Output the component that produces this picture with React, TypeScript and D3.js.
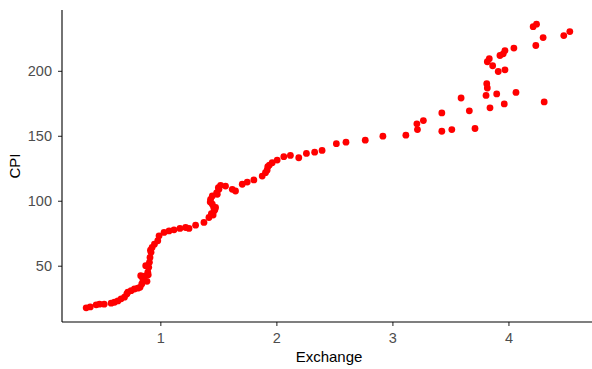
import { useRef, useEffect } from 'react'
import * as d3 from 'd3'

// Exchange rate vs CPI
const exchange = [
  0.361, 0.396, 0.447, 0.476, 0.516, 0.576, 0.605, 0.634, 0.662, 0.691,
  0.711, 0.72, 0.748, 0.777, 0.806, 0.825, 0.84, 0.849, 0.863, 0.892,
  0.9, 0.906, 0.911, 0.92, 0.929, 0.949, 0.978, 0.831, 0.874, 0.885,
  0.896, 0.915, 0.989, 1.032, 1.075, 1.118, 1.169, 1.218, 1.247, 1.304,
  1.376, 1.419, 1.462, 1.476, 1.448, 1.433, 1.448, 1.491, 1.505, 1.519,
  1.44, 1.455, 1.47, 1.43, 1.46, 1.562, 1.62, 1.648, 1.706, 1.749,
  1.806, 1.878, 1.906, 1.926, 1.964, 2.007, 2.064, 2.121, 2.193, 2.259,
  2.33, 2.394, 2.517, 2.6, 2.766, 2.918, 3.116, 3.211, 3.267, 3.216,
  3.426, 3.426, 3.512, 3.592, 3.663, 3.712, 3.807, 3.813, 3.818, 3.841,
  3.899, 3.964, 4.065, 4.308, 4.213, 4.242, 4.299, 4.236, 4.477, 4.529,
  4.047, 3.97, 3.955, 3.927, 3.835, 3.818, 3.864, 3.912, 3.97, 1.92,
  1.94, 1.5, 1.485
]
const cpi = [
  17.6, 18.3, 19.9, 20.4, 20.4, 21.2, 21.9, 22.9, 24.5, 25.8,
  28.3, 29.6, 30.8, 32.1, 32.7, 33.4, 36, 39.8, 41.9, 45,
  48.8, 52.6, 56.4, 60.3, 64.1, 66.6, 69.2, 42.3, 50, 38,
  43, 62, 73, 75.6, 76.8, 77.6, 78.7, 79.4, 78.7, 81.2,
  83.3, 87.1, 92.2, 94.8, 97.3, 101.1, 103.7, 105, 108.8, 111.9,
  90, 89, 93, 99, 95, 111.3, 108.8, 107.5, 112.7, 114.4,
  116, 119, 121.6, 126.2, 129.3, 131.3, 133.9, 134.9, 133.1, 136.4,
  137.4, 138.7, 143.9, 145.1, 146.6, 149.7, 150.5, 159.2, 161.7, 154.8,
  167.6, 153.5, 154.8, 179.1, 169.2, 155.6, 181.1, 190.1, 186.8, 171.5,
  182.2, 174.5, 183.4, 176.1, 234, 235.9, 225.6, 219.5, 227.1, 230.2,
  217.5, 215.6, 213.1, 211.8, 209.3, 207, 203.9, 199.5, 200.8, 123.5,
  127.5, 110, 106
]
const xTicks = [1, 2, 3, 4]
const yTicks = [50, 100, 150, 200]

function Chart() {
  const chartRef = useRef(null)

  function renderChart(container) {
    if (container === null) {
      return
    }
    const width = 592
    const height = 369
    const left = 62
    const right = 594
    const top = 10
    const bottom = 322

    container.innerHTML = ''
    const svg = d3.select(container).append('svg')
      .attr('width', width)
      .attr('height', height)
      .style('display', 'block')
      .style('font-family', 'Liberation Sans, Arial, sans-serif')

    const pts = exchange.map((e, i) => ({ x: e, y: cpi[i] }))

    // ggplot-style 5% expansion
    const xExt = d3.extent(exchange)
    const yExt = d3.extent(cpi)
    const xPad = (xExt[1] - xExt[0]) * 0.05
    const yPad = (yExt[1] - yExt[0]) * 0.05
    const x = d3.scaleLinear().domain([xExt[0] - xPad, xExt[1] + xPad]).range([left, right])
    const y = d3.scaleLinear().domain([yExt[0] - yPad, yExt[1] + yPad]).range([bottom, top])

    svg.append('g')
      .selectAll('circle')
      .data(pts)
      .join('circle')
      .attr('cx', d => x(d.x))
      .attr('cy', d => y(d.y))
      .attr('r', 3.4)
      .attr('fill', '#ff0000')

    const xAxis = svg.append('g')
      .attr('transform', `translate(0,${bottom})`)
      .call(d3.axisBottom(x).tickValues(xTicks).tickSize(4).tickPadding(7).tickFormat(d3.format('d')))
    const yAxis = svg.append('g')
      .attr('transform', `translate(${left},0)`)
      .call(d3.axisLeft(y).tickValues(yTicks).tickSize(4).tickPadding(6).tickFormat(d3.format('d')))

    for (const ax of [xAxis, yAxis]) {
      ax.select('.domain').remove()
      ax.selectAll('line').attr('stroke', '#333').attr('stroke-width', 1.1)
      ax.selectAll('text')
        .attr('fill', '#4d4d4d')
        .style('font-size', '14.5px')
        .style('font-family', 'Liberation Sans, Arial, sans-serif')
    }

    svg.append('line')
      .attr('x1', left).attr('x2', width)
      .attr('y1', bottom).attr('y2', bottom)
      .attr('stroke', '#000').attr('stroke-width', 1.1)
    svg.append('line')
      .attr('x1', left).attr('x2', left)
      .attr('y1', top).attr('y2', bottom)
      .attr('stroke', '#000').attr('stroke-width', 1.1)

    svg.append('text')
      .attr('x', (left + width) / 2 + 2)
      .attr('y', 362)
      .attr('text-anchor', 'middle')
      .attr('fill', '#000')
      .style('font-size', '15px')
      .text('Exchange')

    svg.append('text')
      .attr('transform', `translate(20,${(top + bottom) / 2}) rotate(-90)`)
      .attr('text-anchor', 'middle')
      .attr('fill', '#000')
      .style('font-size', '15px')
      .text('CPI')
  }

  useEffect(() => {
    renderChart(chartRef.current)
  })

  return <div ref={chartRef}></div>
}

export default function App() {
  return (
    <div style={{ position: 'absolute', left: 0, top: 0 }}>
      <Chart />
    </div>
  )
}
